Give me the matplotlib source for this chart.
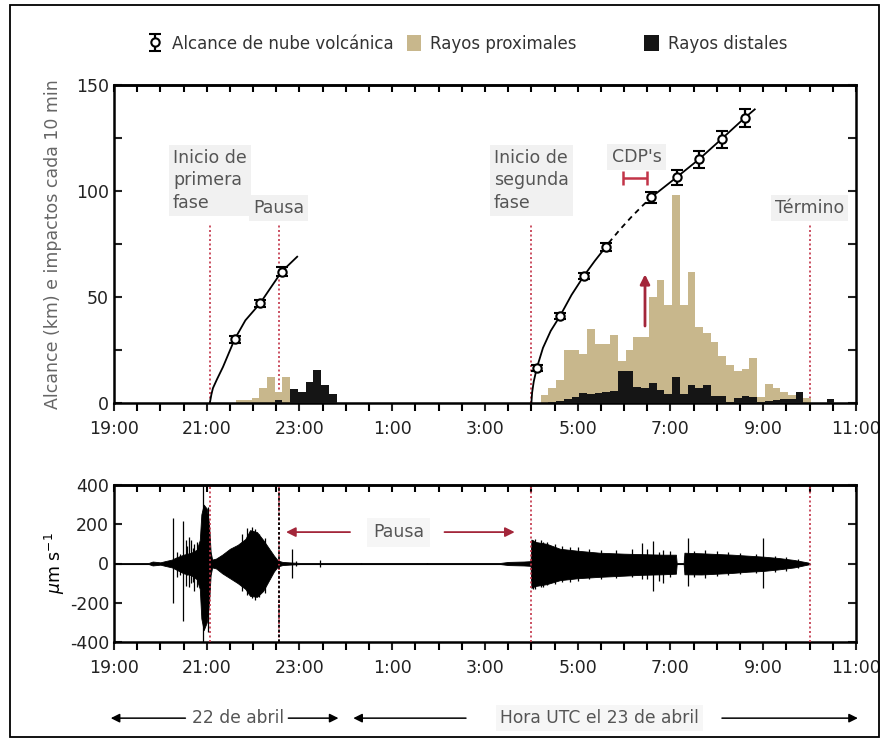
import matplotlib
matplotlib.use('Agg')
import matplotlib.pyplot as plt
from matplotlib.patches import Rectangle, Patch
from matplotlib.ticker import MultipleLocator, FixedLocator
import numpy as np

# --- data (times are UTC clock strings, 22-23 April) ---
BIN_MIN = 10

prox1_start = "21:38"
prox1 = [1.3, 1.3, 2.4, 7, 12.5, 5, 12.5]
dist1_start = "21:38"
dist1 = [0, 0, 0, 0, 0, 1.3, 0, 6.6, 5, 10, 15.4, 8.6, 4.2]

prox2_start = "4:12"
prox2 = [4, 7, 11, 25, 25, 23, 35, 28, 28, 32, 20, 25, 31, 31, 50, 58, 46,
         98, 46, 62, 36, 33, 29, 22, 18, 15, 16, 21, 3, 9, 7, 5, 4, 4, 2.5]
dist2_start = "4:12"
dist2 = [0, 0.5, 1, 2, 3, 4.5, 4.2, 4.5, 5, 5.8, 15, 15, 7.4, 7, 9.4, 6.3,
         4.2, 12.5, 4.2, 8.5, 7, 8.5, 3.5, 3.5, 0.6, 2.2, 3.5, 3, 0.6, 1,
         1.5, 2, 2, 5, 0, 0, 0, 2]

# plume reach (km) with error
reach1_t = ["21:36", "22:09", "22:37"]
reach1_km = [30, 47, 62]
reach1_err = [1.5, 1.5, 2]
reach2_t = ["4:07", "4:37", "5:08", "5:36", "6:35", "7:08", "7:37", "8:06", "8:36"]
reach2_km = [16.5, 41, 60, 73.5, 97, 106.5, 115, 124.5, 134.5]
reach2_err = [1.5, 1.5, 1.5, 2, 2.5, 3.5, 4, 4, 4.2]

# fitted growth curves
fit1_t = ["21:04", "21:06", "21:08", "21:13", "21:21", "21:36", "21:50",
          "22:09", "22:22", "22:37", "22:57"]
fit1_km = [0, 4, 7, 11, 17, 30, 39, 47, 54, 62, 69]
fit2a_t = ["4:00", "4:01", "4:03", "4:07", "4:15", "4:25", "4:37", "4:52",
           "5:08", "5:22", "5:36", "5:40"]
fit2a_km = [0, 5, 10, 16.5, 26, 34, 41, 51, 60, 67, 73.5, 75.5]
fit2b_t = ["5:40", "5:55", "6:10", "6:25", "6:35"]
fit2b_km = [75.5, 82, 88, 93.5, 97]
fit2c_t = ["6:35", "7:08", "7:37", "8:06", "8:36", "8:49"]
fit2c_km = [97, 106.5, 115, 124.5, 134.5, 138.5]

cdp_span = ["5:58", "6:30"]
cdp_level = 106
arrow_t = "6:27"
arrow_from, arrow_to = 35, 62

events = ["21:04", "22:33", "4:00", "10:00"]
event_top = 85

# seismogram envelope (um/s)
seis_t = ["19:00", "19:45", "19:50", "20:00", "20:06", "20:15", "20:20",
          "20:30", "20:40", "20:47", "20:51", "20:53", "20:56", "21:00",
          "21:03", "21:05", "21:07", "21:12", "21:20", "21:30", "21:40",
          "21:50", "21:56", "22:05", "22:13", "22:20", "22:27", "22:32",
          "22:38", "22:50", "23:00", "3:20", "3:30", "3:50", "3:59",
          "4:00", "4:05", "4:20", "4:37", "5:00", "5:28", "6:00", "6:20",
          "6:50", "7:07", "7:08", "7:17", "7:18", "7:40", "8:20", "8:40",
          "9:00", "9:20", "9:40", "9:58", "10:00"]
seis_up = [2, 3, 10, 6, 12, 20, 30, 45, 55, 70, 120, 250, 300, 280, 200, 60,
           20, 25, 45, 75, 95, 125, 170, 160, 120, 80, 40, 15, 8, 5, 3, 3, 8,
           10, 12, 122, 110, 100, 75, 65, 55, 50, 48, 45, 45, 3, 3, 55, 52,
           45, 40, 35, 28, 18, 5, 1]
seis_lo = [-2, -3, -10, -6, -12, -20, -30, -50, -60, -80, -130, -280, -340,
           -300, -200, -60, -20, -25, -50, -75, -100, -130, -165, -170, -140,
           -90, -40, -15, -8, -5, -3, -3, -8, -10, -12, -124, -115, -105,
           -85, -75, -68, -62, -58, -55, -52, -3, -3, -55, -56, -48, -42,
           -38, -30, -20, -5, -1]
spike_t = ["20:16", "20:22", "20:25", "20:29", "20:33", "20:35", "20:37",
           "20:40", "20:42", "20:44", "20:47", "20:55", "21:01", "21:45",
           "21:52", "21:58", "22:03", "22:08", "22:15", "22:50", "22:55",
           "23:26", "0:20", "1:45", "4:02", "4:05", "4:12", "4:15", "4:20",
           "4:30", "4:40", "4:50", "5:00", "5:15", "5:30", "5:50", "6:10",
           "6:23", "6:30", "6:37", "6:45", "6:50", "7:00", "7:23", "7:30",
           "7:45", "8:00", "8:15", "8:30", "8:50", "9:00", "9:15", "9:30",
           "9:45"]
spike_up = [233, 60, 50, 215, 120, 90, 135, 120, 80, 100, 110, 450, 290,
            150, 180, 185, 175, 150, 130, 75, 15, 20, 5, 5, 122, 125, 118,
            112, 108, 100, 90, 85, 82, 75, 70, 68, 72, 105, 75, 114, 60, 71,
            62, 130, 65, 70, 62, 58, 52, 48, 130, 40, 35, 22]
spike_lo = [-200, -70, -60, -294, -115, -60, -120, -100, -95, -140, -120,
            -450, -350, -140, -160, -175, -185, -170, -150, -72, -15, -20,
            -5, -5, -132, -130, -120, -120, -110, -105, -95, -92, -88, -80,
            -78, -74, -70, -81, -80, -141, -90, -98, -68, -115, -70, -75,
            -65, -60, -55, -50, -124, -42, -36, -25]

tick_hours = [0, 2, 4, 6, 8, 10, 12, 14, 16]
tick_labels = ["19:00", "21:00", "23:00", "1:00", "3:00", "5:00", "7:00",
               "9:00", "11:00"]

TAN = '#c8b78c'
DARK = '#151515'
RED = '#c23448'
ARROW_RED = '#a3263a'
GREY_TXT = '#555555'
BOX = dict(facecolor='#f1f1f1', edgecolor='none', pad=3)


def hrs(t):
    h, m = t.split(':')
    return (int(h) - 19) % 24 + int(m) / 60.0


def hlist(ts):
    return np.array([hrs(t) for t in ts])


def lefts(start, n):
    return hrs(start) + np.arange(n) * BIN_MIN / 60.0


plt.rcParams['font.family'] = ['DejaVu Sans']
plt.rcParams['axes.unicode_minus'] = False

W, H = 887, 740
fig = plt.figure(figsize=(W / 100, H / 100), dpi=100)


def rect(l, t, r, b):
    return [l / W, 1 - b / H, (r - l) / W, (b - t) / H]


ax1 = fig.add_axes(rect(114, 85, 856, 403))
ax2 = fig.add_axes(rect(114, 485, 856, 642))


def style_axis(ax):
    ax.set_xlim(0, 16)
    for s in ax.spines.values():
        s.set_linewidth(1.8)
    ax.xaxis.set_major_locator(FixedLocator(tick_hours))
    ax.set_xticklabels(tick_labels)
    ax.xaxis.set_minor_locator(MultipleLocator(0.5))
    ax.tick_params(axis='x', which='major', direction='out', length=6,
                   width=1.5, labelsize=12.5, pad=6, colors='#222222')
    ax.tick_params(axis='x', which='minor', direction='out', length=6,
                   width=1.5)
    ax.tick_params(axis='y', which='both', direction='in', length=6,
                   width=1.5, labelsize=12.5, left=True, right=True,
                   colors='#222222')
    top = ax.secondary_xaxis('top')
    top.xaxis.set_major_locator(MultipleLocator(0.5))
    top.tick_params(direction='in', length=5, width=1.5, labeltop=False)
    top.spines['top'].set_linewidth(1.8)


# ---- top panel ----
style_axis(ax1)
ax1.set_ylim(0, 150)
ax1.yaxis.set_major_locator(FixedLocator([0, 50, 100, 150]))
ax1.yaxis.set_minor_locator(FixedLocator([25, 75, 125]))
ax1.set_ylabel("Alcance (km) e impactos cada 10 min", fontsize=12.5,
               color='#666666', labelpad=10)

bw = BIN_MIN / 60.0
ax1.bar(lefts(prox1_start, len(prox1)), prox1, width=bw, align='edge',
        color=TAN, linewidth=0, zorder=2)
ax1.bar(lefts(prox2_start, len(prox2)), prox2, width=bw, align='edge',
        color=TAN, linewidth=0, zorder=2)
ax1.bar(lefts(dist1_start, len(dist1)), dist1, width=bw, align='edge',
        color=DARK, linewidth=0, zorder=3)
ax1.bar(lefts(dist2_start, len(dist2)), dist2, width=bw, align='edge',
        color=DARK, linewidth=0, zorder=3)

ax1.vlines(hlist(events), 0, event_top, colors=RED, linestyles=(0, (1.2, 1.5)),
           linewidth=1.2, zorder=1)

ax1.plot(hlist(fit1_t), fit1_km, color='black', lw=1.3, zorder=4)
ax1.plot(hlist(fit2a_t), fit2a_km, color='black', lw=1.3, zorder=4)
ax1.plot(hlist(fit2b_t), fit2b_km, color='black', lw=1.3, ls=(0, (3, 2.5)),
         zorder=4)
ax1.plot(hlist(fit2c_t), fit2c_km, color='black', lw=1.3, zorder=4)

eb_kw = dict(fmt='o', ms=6, mfc='white', mec='black', mew=1.5, ecolor='black',
             elinewidth=1.6, capsize=4, capthick=1.6, zorder=6)
ax1.errorbar(hlist(reach1_t), reach1_km, yerr=reach1_err, **eb_kw)
eb2 = ax1.errorbar(hlist(reach2_t), reach2_km, yerr=reach2_err, **eb_kw)

# CDP interval and arrow
ct = hlist(cdp_span)
ax1.errorbar([ct.mean()], [cdp_level], xerr=[[ct.mean() - ct[0]], [ct[1] - ct.mean()]],
             fmt='none', ecolor=RED, elinewidth=1.8, capsize=5, capthick=1.8)
ax1.annotate("", xy=(hrs(arrow_t), arrow_to), xytext=(hrs(arrow_t), arrow_from),
             arrowprops=dict(arrowstyle='-|>', color=ARROW_RED, lw=2,
                             mutation_scale=14), zorder=7)

txt_kw = dict(fontsize=12.5, color=GREY_TXT, bbox=BOX, linespacing=1.3)
ax1.text(hrs("21:04"), 105, "Inicio de\nprimera\nfase", ha='center',
         va='center', multialignment='left', **txt_kw)
ax1.text(hrs("22:33"), 92, "Pausa", ha='center', va='center', **txt_kw)
ax1.text(hrs("4:00"), 105, "Inicio de\nsegunda\nfase", ha='center',
         va='center', multialignment='left', **txt_kw)
ax1.text(hrs("6:16"), 116, "CDP's", ha='center', va='center', **txt_kw)
ax1.text(hrs("10:00"), 92, "Término", ha='center', va='center', **txt_kw)

# legends
tan_patch = Patch(facecolor=TAN, edgecolor='none')
dark_patch = Patch(facecolor=DARK, edgecolor='none')
leg_kw = dict(frameon=False, fontsize=12, handlelength=0.85, handleheight=1.1,
              handletextpad=0.55, borderpad=0, labelcolor='#333333')
fig.legend([eb2, tan_patch], ["Alcance de nube volcánica", "Rayos proximales"],
           loc='center left', bbox_to_anchor=(140 / W, 1 - 44 / H), ncol=2,
           columnspacing=0.8, **leg_kw)
fig.legend([dark_patch], ["Rayos distales"], loc='center left',
           bbox_to_anchor=(636 / W, 1 - 44 / H), **leg_kw)

# ---- bottom panel (seismogram) ----
style_axis(ax2)
ax2.set_ylim(-400, 400)
ax2.yaxis.set_major_locator(FixedLocator([-400, -200, 0, 200, 400]))
ax2.set_ylabel(r"$\mu$m s$^{-1}$", fontsize=12.5, labelpad=2)

st = hlist(seis_t)
ax2.plot([0, hrs("10:00")], [0, 0], color='#333333', lw=0.8, zorder=2)
ax2.fill_between(st, seis_lo, seis_up, color='black', linewidth=0.6, zorder=3)
ax2.vlines(hlist(spike_t), spike_lo, spike_up, colors='black', linewidth=0.9,
           zorder=3)

ax2.vlines(hlist(events), -400, 400, colors=RED, linestyles=(0, (1.2, 1.5)),
           linewidth=1.2, zorder=4)
ax2.vlines([hrs("22:33")], -400, 400, colors='black', linestyles=(0, (1.5, 1.2)),
           linewidth=1.3, zorder=4)

ax2.annotate("", xy=(hrs("22:39"), 160), xytext=(hrs("0:09"), 160),
             arrowprops=dict(arrowstyle='-|>', color=ARROW_RED, lw=1.3,
                             mutation_scale=14))
ax2.annotate("", xy=(hrs("3:42"), 160), xytext=(hrs("2:04"), 160),
             arrowprops=dict(arrowstyle='-|>', color=ARROW_RED, lw=1.3,
                             mutation_scale=14))
ax2.text(hrs("1:08"), 160, "Pausa", ha='center', va='center',
         fontsize=12.5, color=GREY_TXT,
         bbox=dict(facecolor='#f6f6f6', edgecolor='none', pad=4))

# date arrows below
tr = ax2.get_xaxis_transform()
ay = -0.485
arr_kw = dict(arrowstyle='-|>', color='black', lw=1.1, mutation_scale=13)
ax2.annotate("", xy=(-0.13, ay), xytext=(1.6, ay), xycoords=tr, textcoords=tr,
             arrowprops=arr_kw, annotation_clip=False)
ax2.annotate("", xy=(4.9, ay), xytext=(3.7, ay), xycoords=tr, textcoords=tr,
             arrowprops=arr_kw, annotation_clip=False)
ax2.text(2.68, ay, "22 de abril", transform=tr, ha='center', va='center',
         fontsize=12.3, color=GREY_TXT)
ax2.annotate("", xy=(5.1, ay), xytext=(7.65, ay), xycoords=tr, textcoords=tr,
             arrowprops=arr_kw, annotation_clip=False)
ax2.annotate("", xy=(16.1, ay), xytext=(13.05, ay), xycoords=tr, textcoords=tr,
             arrowprops=arr_kw, annotation_clip=False)
ax2.text(10.47, ay, "Hora UTC el 23 de abril", transform=tr, ha='center',
         va='center', fontsize=12.3, color=GREY_TXT,
         bbox=dict(facecolor='#f6f6f6', edgecolor='none', pad=3))

# outer frame
fig.patches.append(Rectangle((10 / W, 3 / H), 869 / W, 732 / H,
                             transform=fig.transFigure, fill=False,
                             edgecolor='black', linewidth=1.3))

fig.savefig("out.png", dpi=100)
